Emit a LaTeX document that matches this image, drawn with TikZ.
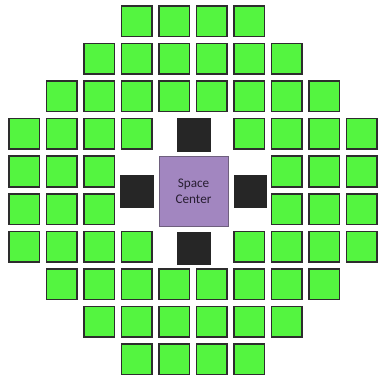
\documentclass[tikz,border=0pt]{standalone}
\usepackage{fontspec}
\setmainfont{Carlito}
\definecolor{seatgreen}{RGB}{84,245,64}
\definecolor{seatedge}{RGB}{45,45,45}
\definecolor{blockdark}{RGB}{38,38,38}
\definecolor{centerpurple}{RGB}{162,134,192}
\definecolor{centeredge}{RGB}{110,95,125}
\definecolor{centertext}{RGB}{40,30,50}
\tikzset{
  seat/.style={draw=seatedge, fill=seatgreen, line width=1.5pt, minimum size=30.5pt, inner sep=0pt},
  block/.style={fill=blockdark, draw=blockdark, line width=0.5pt, minimum size=32.5pt, inner sep=0pt},
  hub/.style={fill=centerpurple, draw=centeredge, line width=0.8pt, minimum size=69.2pt, inner sep=0pt,
    align=center, text=centertext, font=\fontsize{13.2}{16.8}\selectfont}
}
\begin{document}
\begin{tikzpicture}[x=1pt,y=-1pt]
\useasboundingbox (0,0) rectangle (379,379);
\foreach \r/\a/\b in {0/3/6, 1/2/7, 2/1/8, 3/0/3, 3/6/9, 4/0/2, 4/7/9, 5/0/2, 5/7/9, 6/0/3, 6/6/9, 7/1/8, 8/2/7, 9/3/6}{
  \foreach \c in {\a,...,\b}{
    \node[seat] (g-\r-\c) at ({24+37.5*\c},{21.5+37.5*\r}) {};
  }
}
\node[hub] (center) at (193.5,191.3) {Space\\Center};
\node[block] (btop) at (193.5,134.6) {};
\node[block] (bbottom) at (193.5,248) {};
\node[block] (bleft) at (136.8,191.3) {};
\node[block] (bright) at (250.2,191.3) {};
\end{tikzpicture}
\end{document}
